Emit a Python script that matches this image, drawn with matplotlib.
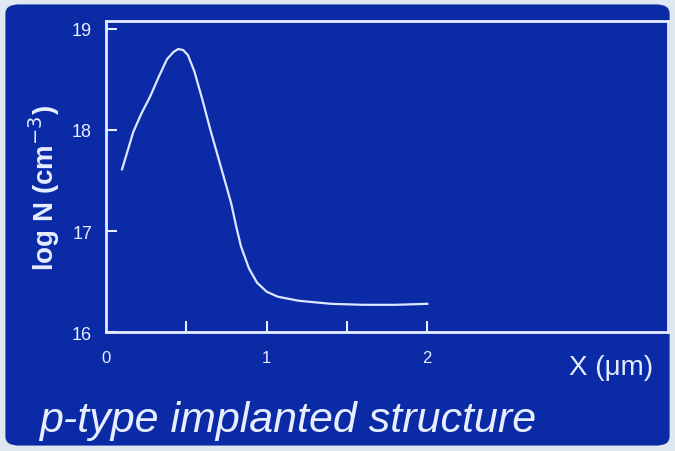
import numpy as np
import matplotlib
matplotlib.use("Agg")
import matplotlib.pyplot as plt
from matplotlib.patches import FancyBboxPatch

# depth (um) and log doping concentration
depth_um = [0.10, 0.17, 0.22, 0.275, 0.33, 0.38, 0.42, 0.45, 0.48, 0.51, 0.55,
            0.60, 0.65, 0.70, 0.75, 0.78, 0.81, 0.84, 0.89, 0.94, 1.00, 1.07,
            1.20, 1.40, 1.60, 1.80, 2.00]
log_n = [17.61, 17.98, 18.16, 18.33, 18.53, 18.70, 18.77, 18.80, 18.79, 18.74,
         18.58, 18.30, 18.00, 17.72, 17.44, 17.27, 17.05, 16.85, 16.63, 16.49,
         16.40, 16.35, 16.31, 16.28, 16.27, 16.27, 16.28]

y_ticks = [16, 17, 18, 19]
x_labels = ["0", "1", "2"]
x_label_pos = [0, 1, 2]
x_minor = [0.5, 1.0, 1.5, 2.0]

bg = "#0b2ba6"
fg = "#e6eeff"
plt.rcParams["font.family"] = ["Liberation Sans", "DejaVu Sans"]

fig = plt.figure(figsize=(6.75, 4.52), dpi=100)
fig.patch.set_facecolor("#dfe7f0")
fig.patches.append(FancyBboxPatch((0.008, 0.012), 0.984, 0.976,
                                  boxstyle="round,pad=0,rounding_size=0.02",
                                  transform=fig.transFigure, facecolor=bg,
                                  edgecolor="none", zorder=-10))

ax = fig.add_axes([0.157, 0.263, 0.833, 0.689])
ax.set_zorder(1)
ax.set_facecolor("none")
ax.plot(depth_um, log_n, color="#dde8ff", lw=1.6, solid_joinstyle="round")

ax.set_xlim(0, 3.5)
ax.set_ylim(16, 19.08)
for s in ax.spines.values():
    s.set_color(fg)
    s.set_linewidth(2)

ax.set_yticks(y_ticks)
ax.set_yticklabels([str(t) for t in y_ticks])
ax.tick_params(axis="y", direction="in", length=8, width=1.5, colors=fg,
               labelsize=13, pad=10)
ax.set_xticks(x_minor)
ax.set_xticklabels([])
ax.tick_params(axis="x", direction="in", length=8, width=1.5, colors=fg)
for xp, lab in zip(x_label_pos, x_labels):
    ax.text(xp, -0.08, lab, transform=ax.get_xaxis_transform(), ha="center",
            va="center", color=fg, fontsize=12)

fig.text(0.066, 0.585, "log N (cm$^{-3}$)", rotation=90, ha="center",
         va="center", color=fg, fontsize=20, fontweight="bold")
fig.text(0.905, 0.185, "X (μm)", ha="center", va="center", color=fg,
         fontsize=20)
fig.text(0.058, 0.068, "p-type implanted structure", ha="left",
         va="center", color=fg, fontsize=31, style="italic")

fig.savefig("out.png", dpi=100, facecolor=fig.get_facecolor())
